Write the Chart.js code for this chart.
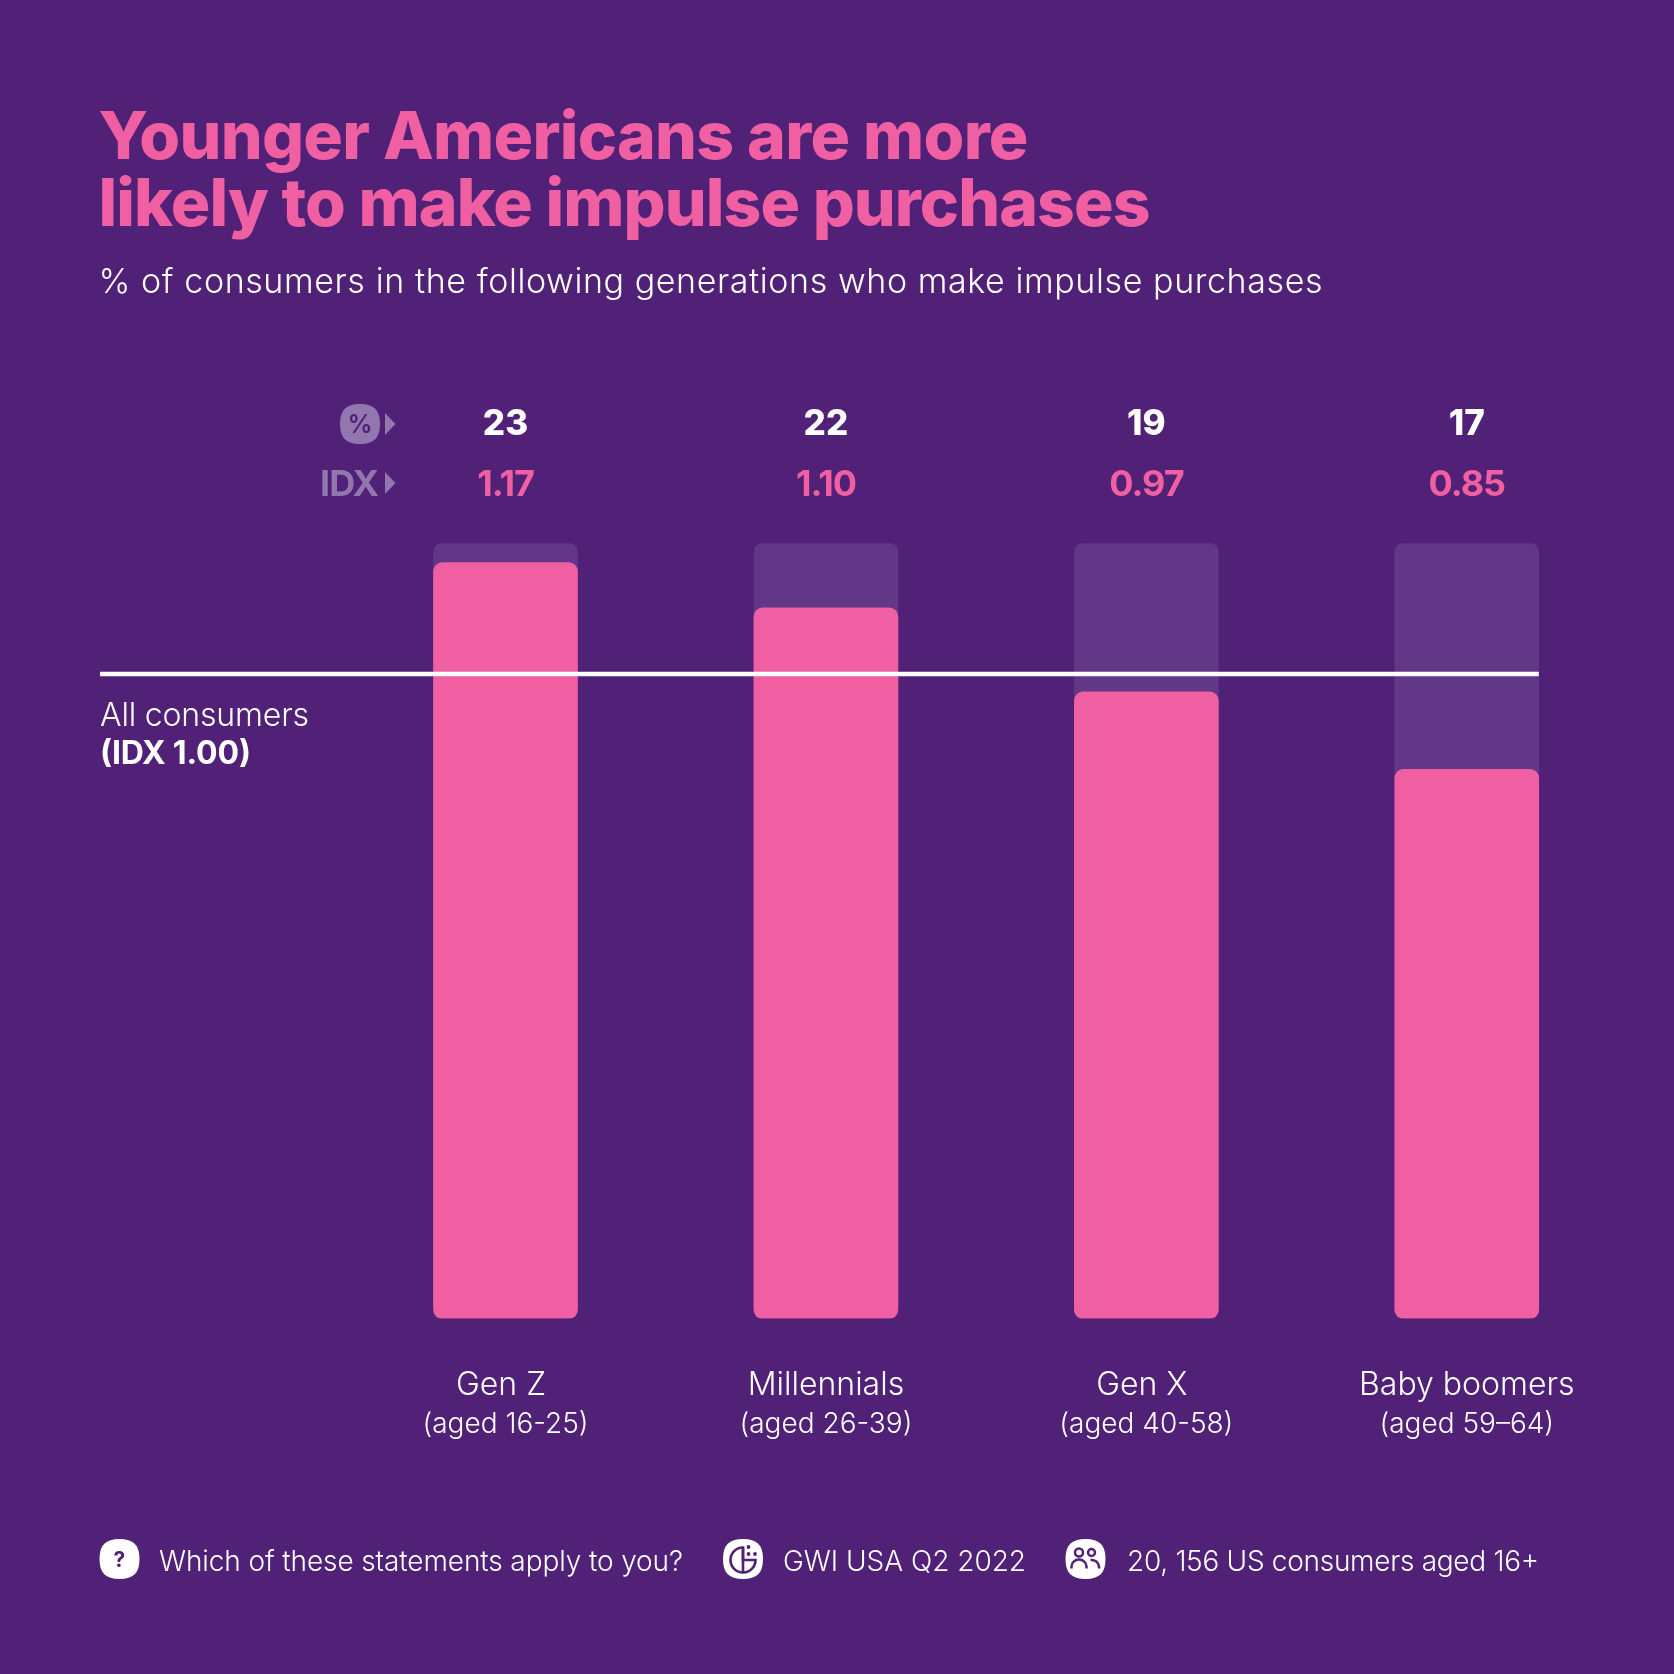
<!DOCTYPE html>
<html><head><meta charset="utf-8">
<style>
html,body{margin:0;padding:0;background:#502176;}
#stage{position:relative;width:1674px;height:1674px;overflow:hidden;background:#502176;}
canvas{position:absolute;left:0;top:0;}
svg{position:absolute;left:0;top:0;}
</style>
<script src="https://cdn.jsdelivr.net/npm/chart.js@4/dist/chart.umd.js"></script>
</head><body>
<div id="stage">
<canvas id="c" width="1674" height="1674"></canvas>
<svg width="1674" height="1674" viewBox="0 0 1674 1674" font-family="Inter">
  <text x="98.500" y="158.500" font-size="66" font-weight="800" fill="#ef5fa1" textLength="930" lengthAdjust="spacing">Younger Americans are more</text>
  <text x="98.500" y="226" font-size="66" font-weight="800" fill="#ef5fa1" textLength="1052" lengthAdjust="spacing">likely to make impulse purchases</text>
  <text x="98.500" y="293" font-size="34" font-weight="300" fill="#fff" textLength="1224" lengthAdjust="spacing">% of consumers in the following generations who make impulse purchases</text>

  <text x="100" y="725.500" font-size="32" font-weight="300" fill="#fff" textLength="209" lengthAdjust="spacing">All consumers</text>
  <text x="100" y="763.500" font-size="32" font-weight="700" fill="#fff" textLength="151" lengthAdjust="spacing">(IDX 1.00)</text>

  <g transform="translate(340,404)">
    <path d="M20 0C34 0 40 6 40 20S34 40 20 40S0 34 0 20S6 0 20 0Z" fill="#9276ae"/>
    <text x="20" y="29" font-size="25" font-weight="600" fill="#502176" text-anchor="middle">%</text>
  </g>
  <path d="M385 413L395.500 424L385 435Z" fill="#9276ae"/>
  <text x="320" y="496" font-size="36" font-weight="700" fill="#9276ae" textLength="59" lengthAdjust="spacing">IDX</text>
  <path d="M385 472L395.500 483L385 494Z" fill="#9276ae"/>

  <g transform="translate(99.500,1539)">
    <path d="M20 0C34 0 40 6 40 20S34 40 20 40S0 34 0 20S6 0 20 0Z" fill="#fff"/>
    <text x="20" y="28" font-size="21" font-weight="700" fill="#502176" text-anchor="middle">?</text>
  </g>
  <text x="159" y="1570.500" font-size="28" font-weight="300" fill="#fff" textLength="524" lengthAdjust="spacing">Which of these statements apply to you?</text>

  <g transform="translate(723,1539)">
    <path d="M20 0C34 0 40 6 40 20S34 40 20 40S0 34 0 20S6 0 20 0Z" fill="#fff"/>
    <g fill="none" stroke="#502176" stroke-width="2.600">
      <path d="M20 8.500A12.500 12.500 0 1 0 32.500 21H20Z"/>
      <path d="M20 8.500V33.500"/>
    </g>
    <g fill="#502176">
      <circle cx="25.500" cy="8" r="1.900"/><circle cx="25.500" cy="15" r="1.900"/><circle cx="32" cy="15" r="1.900"/>
    </g>
  </g>
  <text x="783" y="1570.500" font-size="28" font-weight="300" fill="#fff" textLength="243" lengthAdjust="spacing">GWI USA Q2 2022</text>

  <g transform="translate(1065.500,1539)">
    <path d="M20 0C34 0 40 6 40 20S34 40 20 40S0 34 0 20S6 0 20 0Z" fill="#fff"/>
    <g fill="none" stroke="#502176" stroke-width="2.500">
      <circle cx="13.500" cy="13.500" r="4"/>
      <circle cx="26" cy="13.500" r="3.500"/>
      <path d="M6 29.500V27.500A7.500 7 0 0 1 21 27.500V29.500"/>
      <path d="M25 21A7.500 7 0 0 1 33.500 27.500V29.500"/>
    </g>
  </g>
  <text x="1127" y="1570.500" font-size="28" font-weight="300" fill="#fff" textLength="412" lengthAdjust="spacing">20, 156 US consumers aged 16+</text>
</svg>
</div>
<script>
const categories = ['Gen Z ', 'Millennials', 'Gen X ', 'Baby boomers'];
const ageLabels = ['(aged 16-25)', '(aged 26-39)', '(aged 40-58)', '(aged 59\u201364)'];
const percentValues = [23, 22, 19, 17];
const idxLabels = ['1.17', '1.10', '0.97', '0.85'];
const idxValues = [1.17, 1.10, 0.97, 0.85];
const trackValues = [1.2, 1.2, 1.2, 1.2];
const allConsumersLine = 0.998;

const PINK = '#ef5fa1', TRACK = '#623787';

const overlay = {
  id: 'overlay',
  afterDatasetsDraw(chart) {
    const { ctx, scales: { x, y } } = chart;
    const meta = chart.getDatasetMeta(0).data;
    const last = meta[meta.length - 1];
    const yp = Math.round(y.getPixelForValue(allConsumersLine));
    ctx.save();
    ctx.strokeStyle = '#ffffff';
    ctx.lineWidth = 4.5;
    ctx.beginPath();
    ctx.moveTo(100, yp);
    ctx.lineTo(last.x + last.width / 2, yp);
    ctx.stroke();

    ctx.textAlign = 'center';
    ctx.textBaseline = 'alphabetic';
    categories.forEach((c, i) => {
      const cx = x.getPixelForValue(i);
      ctx.fillStyle = '#ffffff';
      ctx.font = '800 35px Inter';
      ctx.fillText(String(percentValues[i]), cx, 435);
      ctx.fillStyle = PINK;
      ctx.font = '700 36px Inter';
      ctx.letterSpacing = '-1px';
      ctx.fillText(idxLabels[i], cx, 496);
      ctx.letterSpacing = '0px';
      ctx.fillStyle = '#ffffff';
      ctx.font = '300 28px Inter';
      ctx.fillText(ageLabels[i], cx, 1432.5);
    });
    ctx.restore();
  }
};

new Chart(document.getElementById('c'), {
  type: 'bar',
  data: {
    labels: categories,
    datasets: [
      { label: 'IDX', data: idxValues, backgroundColor: PINK, borderRadius: 9, borderSkipped: false, order: 1, barThickness: 144, grouped: false },
      { label: 'Scale', data: trackValues, backgroundColor: TRACK, borderRadius: 9, borderSkipped: false, order: 2, barThickness: 144, grouped: false }
    ]
  },
  options: {
    responsive: false,
    devicePixelRatio: 1,
    animation: false,
    layout: { padding: { top: 543.3, left: 345.3, right: 47, bottom: 0 } },
    plugins: { legend: { display: false }, title: { display: false }, tooltip: { enabled: false } },
    scales: {
      x: {
        type: 'category',
        offset: true,
        afterFit(s) { s.height = 355.5; },
        grid: { display: false, drawTicks: false },
        border: { display: false },
        ticks: { color: '#ffffff', font: { family: 'Inter', size: 32, weight: '300' }, padding: 48, maxRotation: 0, autoSkip: false }
      },
      y: { display: false, min: 0, max: 1.2 }
    }
  },
  plugins: [overlay]
});
</script>
</body></html>
